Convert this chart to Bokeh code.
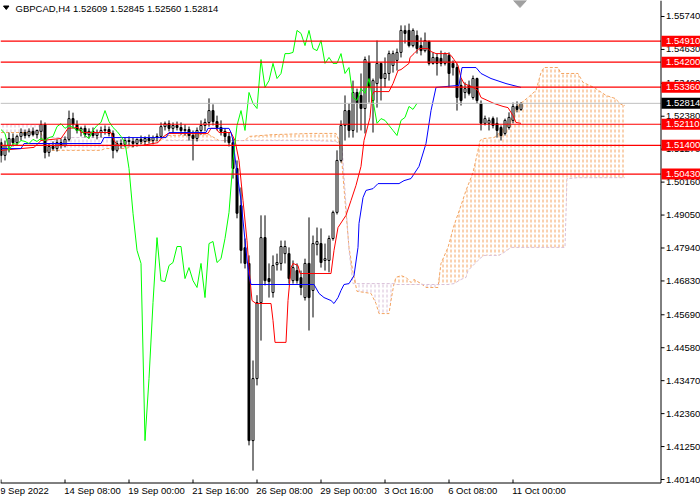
import numpy as np
from bokeh.plotting import figure
from bokeh.models import Range1d
from bokeh.core.properties import value
from bokeh.embed import file_html
from bokeh.resources import INLINE

# ---------------- data ----------------
header_text = "GBPCAD,H4  1.52609 1.52845 1.52560 1.52814"

opens = [1.5149, 1.5106, 1.5139, 1.5163, 1.5149, 1.5170, 1.5183, 1.5173, 1.5187, 1.5176,
         1.5187, 1.5210, 1.5116, 1.5136, 1.5129, 1.5149, 1.5139, 1.5160, 1.5230, 1.5210,
         1.5190, 1.5197, 1.5176, 1.5187, 1.5173, 1.5183, 1.5190, 1.5193, 1.5180, 1.5123,
         1.5146, 1.5143, 1.5156, 1.5153, 1.5146, 1.5160, 1.5153, 1.5163, 1.5156, 1.5166,
         1.5170, 1.5203, 1.5213, 1.5197, 1.5207, 1.5200, 1.5190, 1.5193, 1.5173, 1.5163,
         1.5190, 1.5207, 1.5217, 1.5257, 1.5220, 1.5200, 1.5187, 1.5170, 1.5149, 1.5062,
         1.4937, 1.4795, 1.4742, 1.4145, 1.4354, 1.4610, 1.4829, 1.4691, 1.4644, 1.4738,
         1.4742, 1.4775, 1.4775, 1.4684, 1.4718, 1.4694, 1.4627, 1.4742, 1.4651, 1.4806,
         1.4809, 1.4752, 1.4752, 1.4826, 1.4914, 1.5089, 1.5207, 1.5257, 1.5190, 1.5318,
         1.5308, 1.5264, 1.5419, 1.5291, 1.5348, 1.5416, 1.5365, 1.5382, 1.5409, 1.5426,
         1.5453, 1.5527, 1.5527, 1.5476, 1.5510, 1.5476, 1.5459, 1.5490, 1.5416, 1.5436,
         1.5433, 1.5416, 1.5443, 1.5416, 1.5402, 1.5342, 1.5318, 1.5342, 1.5301, 1.5365,
         1.5281, 1.5214, 1.5214, 1.5230, 1.5214, 1.5200, 1.5180, 1.5200, 1.5224, 1.5271,
         1.52609]
highs = [1.5163, 1.5156, 1.5183, 1.5180, 1.5176, 1.5197, 1.5193, 1.5197, 1.5200, 1.5193,
         1.5224, 1.5217, 1.5146, 1.5153, 1.5160, 1.5163, 1.5170, 1.5257, 1.5250, 1.5224,
         1.5203, 1.5207, 1.5197, 1.5200, 1.5193, 1.5203, 1.5207, 1.5203, 1.5190, 1.5156,
         1.5160, 1.5166, 1.5170, 1.5166, 1.5163, 1.5173, 1.5170, 1.5176, 1.5173, 1.5180,
         1.5217, 1.5220, 1.5224, 1.5217, 1.5220, 1.5217, 1.5210, 1.5203, 1.5190, 1.5200,
         1.5224, 1.5230, 1.5298, 1.5278, 1.5240, 1.5224, 1.5197, 1.5183, 1.5163, 1.5089,
         1.4998, 1.4826, 1.4769, 1.4415, 1.4635, 1.4904, 1.4904, 1.4742, 1.4769, 1.4775,
         1.4819, 1.4819, 1.4796, 1.4752, 1.4742, 1.4718, 1.4758, 1.4897, 1.4836, 1.4863,
         1.4860, 1.4809, 1.4836, 1.4920, 1.5123, 1.5224, 1.5308, 1.5281, 1.5358, 1.5331,
         1.5382, 1.5439, 1.5443, 1.5365, 1.5493, 1.5419, 1.5436, 1.5459, 1.5459, 1.5466,
         1.5544, 1.5544, 1.5550, 1.5534, 1.5527, 1.5503, 1.5520, 1.5493, 1.5453, 1.5449,
         1.5459, 1.5453, 1.5453, 1.5426, 1.5416, 1.5365, 1.5352, 1.5358, 1.5375, 1.5368,
         1.5291, 1.5240, 1.5234, 1.5237, 1.5234, 1.5207, 1.5230, 1.5251, 1.5284, 1.5288,
         1.52845]
lows = [1.5082, 1.5089, 1.5116, 1.5136, 1.5139, 1.5156, 1.5163, 1.5166, 1.5170, 1.5163,
        1.5156, 1.5096, 1.5102, 1.5123, 1.5119, 1.5129, 1.5133, 1.5153, 1.5197, 1.5180,
        1.5170, 1.5166, 1.5163, 1.5166, 1.5160, 1.5166, 1.5176, 1.5170, 1.5096, 1.5116,
        1.5129, 1.5133, 1.5136, 1.5133, 1.5136, 1.5143, 1.5139, 1.5146, 1.5143, 1.5153,
        1.5163, 1.5190, 1.5187, 1.5180, 1.5190, 1.5176, 1.5173, 1.5156, 1.5089, 1.5153,
        1.5176, 1.5187, 1.5203, 1.5207, 1.5190, 1.5173, 1.5149, 1.5136, 1.5028, 1.4894,
        1.4742, 1.4725, 1.4129, 1.4044, 1.4331, 1.4482, 1.4668, 1.4627, 1.4627, 1.4718,
        1.4718, 1.4742, 1.4674, 1.4674, 1.4674, 1.4635, 1.4617, 1.4516, 1.4560, 1.4769,
        1.4728, 1.4718, 1.4712, 1.4819, 1.4907, 1.5082, 1.5156, 1.5166, 1.5166, 1.5183,
        1.5190, 1.5180, 1.5284, 1.5183, 1.5267, 1.5291, 1.5335, 1.5358, 1.5385, 1.5392,
        1.5436, 1.5483, 1.5470, 1.5470, 1.5449, 1.5443, 1.5453, 1.5409, 1.5412, 1.5375,
        1.5406, 1.5409, 1.5335, 1.5375, 1.5257, 1.5274, 1.5298, 1.5308, 1.5294, 1.5281,
        1.5190, 1.5207, 1.5190, 1.5197, 1.5166, 1.5156, 1.5173, 1.5193, 1.5214, 1.5251,
        1.52560]
closes = [1.5106, 1.5139, 1.5163, 1.5149, 1.5170, 1.5183, 1.5173, 1.5187, 1.5176, 1.5190,
          1.5210, 1.5116, 1.5136, 1.5129, 1.5149, 1.5139, 1.5160, 1.5230, 1.5210, 1.5190,
          1.5197, 1.5176, 1.5187, 1.5173, 1.5183, 1.5190, 1.5193, 1.5180, 1.5123, 1.5146,
          1.5143, 1.5156, 1.5153, 1.5146, 1.5160, 1.5153, 1.5163, 1.5156, 1.5166, 1.5170,
          1.5203, 1.5213, 1.5197, 1.5207, 1.5200, 1.5190, 1.5193, 1.5173, 1.5163, 1.5190,
          1.5207, 1.5217, 1.5257, 1.5220, 1.5200, 1.5187, 1.5170, 1.5149, 1.5062, 1.4911,
          1.4786, 1.4742, 1.4145, 1.4354, 1.4610, 1.4829, 1.4684, 1.4681, 1.4735, 1.4745,
          1.4799, 1.4799, 1.4691, 1.4728, 1.4684, 1.4661, 1.4742, 1.4627, 1.4809, 1.4816,
          1.4745, 1.4758, 1.4826, 1.4914, 1.5089, 1.5207, 1.5257, 1.5190, 1.5318, 1.5281,
          1.5264, 1.5429, 1.5335, 1.5358, 1.5416, 1.5365, 1.5382, 1.5449, 1.5449, 1.5453,
          1.5527, 1.5517, 1.5476, 1.5527, 1.5466, 1.5459, 1.5493, 1.5416, 1.5436, 1.5416,
          1.5416, 1.5449, 1.5382, 1.5402, 1.5301, 1.5291, 1.5331, 1.5315, 1.5365, 1.5291,
          1.5214, 1.5230, 1.5224, 1.5207, 1.5190, 1.5173, 1.5224, 1.5234, 1.5271, 1.5261,
          1.52814]

tenkan_x = [0, 5, 8.25, 10, 15, 16.75, 19.25, 20, 27.5, 28.25,
            29.25, 35, 39.25, 40, 41.75, 51.75, 52.5, 53.75, 54.5, 57.5,
            58.5, 59.5, 60.5, 61.5, 62, 62.75, 63.75, 67.5, 68, 68.5,
            71.25, 71.75, 72.5, 73, 74.25, 74.75, 82.5, 83.25, 84.25, 86.25,
            87.5, 88.75, 90, 90.75, 92.25, 92.75, 93.25, 97, 98, 99.25,
            100, 102, 102.25, 103.25, 104.5, 106.75, 107.5, 108.75, 111.75, 112.5,
            113.25, 114.25, 115, 115.75, 118, 119.25, 120, 123.25, 125.5, 126.75,
            128, 128.75, 130]
tenkan_y = [1.5123, 1.5129, 1.5133, 1.5156, 1.5163, 1.5197, 1.5200, 1.5183, 1.5183, 1.5156,
            1.5139, 1.5139, 1.5149, 1.5163, 1.5180, 1.5180, 1.5197, 1.5197, 1.5183, 1.5183,
            1.5156, 1.5089, 1.4954, 1.4819, 1.4725, 1.4617, 1.4607, 1.4607, 1.4550, 1.4476,
            1.4476, 1.4617, 1.4728, 1.4742, 1.4735, 1.4708, 1.4708, 1.4786, 1.4863, 1.4904,
            1.4954, 1.5005, 1.5069, 1.5156, 1.5234, 1.5308, 1.5321, 1.5321, 1.5348, 1.5392,
            1.5395, 1.5416, 1.5436, 1.5449, 1.5466, 1.5466, 1.5456, 1.5449, 1.5449, 1.5443,
            1.5429, 1.5409, 1.5368, 1.5348, 1.5335, 1.5325, 1.5301, 1.5281, 1.5271, 1.5267,
            1.5240, 1.5217, 1.5214]

kijun_x = [0, 5, 5.75, 25, 25.75, 41.25, 42, 51.25, 51.75, 57,
           57.5, 58, 58.75, 60, 61.25, 62, 62.5, 78.25, 79.5, 80.75,
           82.5, 83.25, 84.25, 85, 85.75, 87, 88.25, 89.25, 89.5, 90.5,
           91.25, 93, 94.25, 99.5, 100.75, 102.5, 104.5, 106.25, 107.5, 108.75,
           114.5, 115.25, 118.75, 120, 122.5, 126.25, 130]
kijun_y = [1.5129, 1.5129, 1.5146, 1.5146, 1.5166, 1.5166, 1.5183, 1.5183, 1.5197, 1.5197,
           1.5183, 1.5156, 1.5072, 1.4954, 1.4786, 1.4701, 1.4671, 1.4671, 1.4641, 1.4627,
           1.4617, 1.4607, 1.4627, 1.4651, 1.4671, 1.4674, 1.4701, 1.4796, 1.4877, 1.4964,
           1.4988, 1.4994, 1.5011, 1.5011, 1.5021, 1.5028, 1.5069, 1.5146, 1.5257, 1.5335,
           1.5342, 1.5402, 1.5402, 1.5382, 1.5365, 1.5348, 1.5335]

cloud_x = [0, 10, 11, 25, 26, 31, 34, 36, 40, 41.25,
           52, 54.5, 61, 62, 68, 77.5, 83.75, 84.5, 85.25, 86,
           87, 88, 89, 92.5, 93.75, 94.5, 97, 97.5, 98.25, 98.75,
           100, 101.25, 102.5, 103.25, 105, 106.25, 109.25, 110, 111.75, 113.25,
           115, 116.25, 116.75, 118, 119.25, 119.75, 120.75, 123.25, 124.5, 125.75,
           127.5, 129.25, 131.75, 133.75, 135, 135.75, 139.25, 140, 141, 141.5,
           144.25, 145.5, 148.25, 151.25, 153.5, 155, 156]
span_a = [1.5183, 1.5183, 1.5123, 1.5123, 1.5129, 1.5129, 1.5139, 1.5153, 1.5156, 1.5173,
          1.5176, 1.5156, 1.5156, 1.5170, 1.5176, 1.5180, 1.5180, 1.5156, 1.5079, 1.4954,
          1.4796, 1.4712, 1.4648, 1.4641, 1.4607, 1.4573, 1.4573, 1.4617, 1.4674, 1.4695,
          1.4701, 1.4695, 1.4678, 1.4688, 1.4674, 1.4661, 1.4661, 1.4742, 1.4796, 1.4870,
          1.4937, 1.4988, 1.5005, 1.5048, 1.5123, 1.5156, 1.5163, 1.5166, 1.5180, 1.5200,
          1.5224, 1.5274, 1.5301, 1.5325, 1.5385, 1.5402, 1.5402, 1.5382, 1.5382, 1.5382,
          1.5382, 1.5352, 1.5335, 1.5308, 1.5298, 1.5278, 1.5274]
span_b = [1.5210, 1.5210, 1.5166, 1.5166, 1.5166, 1.5166, 1.5166, 1.5166, 1.5166, 1.5156,
          1.5156, 1.5156, 1.5156, 1.5156, 1.5156, 1.5156, 1.5153, 1.5146, 1.5139, 1.4988,
          1.4786, 1.4674, 1.4674, 1.4674, 1.4674, 1.4674, 1.4674, 1.4674, 1.4674, 1.4671,
          1.4671, 1.4671, 1.4671, 1.4671, 1.4671, 1.4671, 1.4671, 1.4671, 1.4671, 1.4674,
          1.4688, 1.4695, 1.4718, 1.4735, 1.4752, 1.4759, 1.4769, 1.4769, 1.4769, 1.4779,
          1.4796, 1.4796, 1.4796, 1.4796, 1.4796, 1.4796, 1.4796, 1.4796, 1.4796, 1.5028,
          1.5031, 1.5031, 1.5031, 1.5031, 1.5031, 1.5031, 1.5031]

chikou_shift = 26
level_lines = [1.54910, 1.54200, 1.53360, 1.52110, 1.51400, 1.50430]
last_price = 1.52814
price_ticks = [1.55740, 1.54630, 1.53490, 1.52380, 1.51270, 1.50160, 1.49050, 1.47940,
               1.46830, 1.45690, 1.44580, 1.43470, 1.42360, 1.41250, 1.40140]
time_ticks = [0, 16, 32, 48, 64, 80, 96, 112, 128]
time_labels = ["9 Sep 2022", "14 Sep 08:00", "19 Sep 00:00", "21 Sep 16:00", "26 Sep 08:00",
               "29 Sep 00:00", "3 Oct 16:00", "6 Oct 08:00", "11 Oct 00:00"]

# ---------------- layout (terminal-like, whole canvas is the data frame) ----------------
FONT = "Liberation Sans"
FS = "9.5px"
W, H = 700, 500
X0, X1 = -0.125, 174.875           # bars across the 700 px canvas (4 px per bar)
Y_TOP, Y_BOT = 1.56279, 1.394325   # prices across the 500 px canvas
PX_Y = (Y_TOP - Y_BOT) / H          # price per pixel


def x_at(page_x):
    return X0 + page_x * (X1 - X0) / W


def y_at(page_y):
    return Y_TOP - page_y * PX_Y


AXIS_X = x_at(660.5)
AXIS_Y = y_at(482.5)

o = np.array(opens)
h = np.array(highs)
l = np.array(lows)
c = np.array(closes)
bars = np.arange(len(c))
up = c >= o

p = figure(width=W, height=H, x_range=Range1d(X0, X1), y_range=Range1d(Y_BOT, Y_TOP),
           output_backend="svg", toolbar_location=None,
           x_axis_location=None, y_axis_location=None, min_border=0,
           background_fill_color="white", border_fill_color="white", outline_line_color=None)
p.grid.visible = False

# Ichimoku cloud: vertical strokes (one per bar) broken into dashes
cx = np.array(cloud_x)
sa = np.array(span_a)
sb = np.array(span_b)
upper = np.maximum(sa, sb)
lower = np.minimum(sa, sb)
p.varea(x=cx, y1=sb, y2=upper, fill_color=None, hatch_pattern="vertical_line",
        hatch_color="#F4A460", hatch_scale=4, hatch_weight=1)
p.varea(x=cx, y1=sa, y2=upper, fill_color=None, hatch_pattern="vertical_line",
        hatch_color="#D8BFD8", hatch_scale=4, hatch_weight=1)
p.varea(x=cx, y1=lower, y2=upper, fill_color=None, hatch_pattern="horizontal_line",
        hatch_color="white", hatch_scale=5, hatch_weight=2)
p.line(cx, sa, line_color="#F4A460", line_width=1, line_dash="3 2")
p.line(cx, sb, line_color="#D8BFD8", line_width=1, line_dash="3 2")

# candles
p.segment(bars, h, bars, l, line_color="black", line_width=1)
p.vbar(x=bars[up], width=0.5, top=c[up], bottom=o[up], fill_color="white", line_color="black", line_width=1)
p.vbar(x=bars[~up], width=0.5, top=o[~up], bottom=c[~up], fill_color="black", line_color="black", line_width=1)

# Ichimoku lines
p.line(tenkan_x, tenkan_y, line_color="#FF0000", line_width=1)
p.line(kijun_x, kijun_y, line_color="#0000FF", line_width=1)
p.line(bars[chikou_shift:] - chikou_shift, c[chikou_shift:], line_color="#00FF00", line_width=1)

# horizontal levels and current price line
n_lv = len(level_lines)
p.segment(x0=[X0] * n_lv, x1=[AXIS_X] * n_lv, y0=level_lines, y1=level_lines,
          line_color="#FF0000", line_width=1.2)
p.segment(x0=[X0], x1=[AXIS_X], y0=[last_price], y1=[last_price], line_color="#C0C0C0", line_width=1)

# price axis (right) and time axis (bottom)
p.segment(x0=[AXIS_X], x1=[AXIS_X], y0=[AXIS_Y], y1=[Y_TOP], line_color="black", line_width=1)
p.segment(x0=[X0], x1=[AXIS_X], y0=[AXIS_Y], y1=[AXIS_Y], line_color="black", line_width=1)
n_pt = len(price_ticks)
p.segment(x0=[AXIS_X] * n_pt, x1=[x_at(664)] * n_pt, y0=price_ticks, y1=price_ticks,
          line_color="black", line_width=1)
p.text(x=[x_at(665.5)] * n_pt, y=price_ticks, text=[f"{t:.5f}" for t in price_ticks],
       text_font=value(FONT), text_font_size=FS, text_color="black",
       text_align="left", text_baseline="middle")
n_tt = len(time_ticks)
p.segment(x0=time_ticks, x1=time_ticks, y0=[y_at(479)] * n_tt, y1=[AXIS_Y] * n_tt,
          line_color="black", line_width=1)
p.text(x=[t - 0.2 for t in time_ticks], y=[y_at(489.5)] * n_tt, text=time_labels,
       text_font=value(FONT), text_font_size=FS, text_color="black",
       text_align="left", text_baseline="middle")

# price tags on the axis (box + white text)
tag_prices = level_lines + [last_price]
tag_colors = ["#FF0000"] * n_lv + ["#000000"]
half = 5.5 * PX_Y
p.quad(left=[x_at(661)] * len(tag_prices), right=[X1] * len(tag_prices),
       top=[t + half for t in tag_prices], bottom=[t - half for t in tag_prices],
       fill_color=tag_colors, line_color=None)
p.text(x=[x_at(665.5)] * len(tag_prices), y=tag_prices, text=[f"{t:.5f}" for t in tag_prices],
       text_font=value(FONT), text_font_size=FS, text_color="white",
       text_align="left", text_baseline="middle")

# header and chart-shift marker
p.patch([x_at(3), x_at(8.5), x_at(5.75)], [y_at(5.5), y_at(5.5), y_at(9)], fill_color="black", line_color="black")
p.text(x=[x_at(15)], y=[y_at(7.5)], text=[header_text], text_font=value(FONT), text_font_size=FS,
       text_color="black", text_align="left", text_baseline="middle")
p.patch([x_at(513), x_at(526), x_at(519.5)], [y_at(0), y_at(0), y_at(7)],
        fill_color="#A0A0A0", line_color="#A0A0A0")

open("out.html", "w").write(file_html(p, INLINE))
